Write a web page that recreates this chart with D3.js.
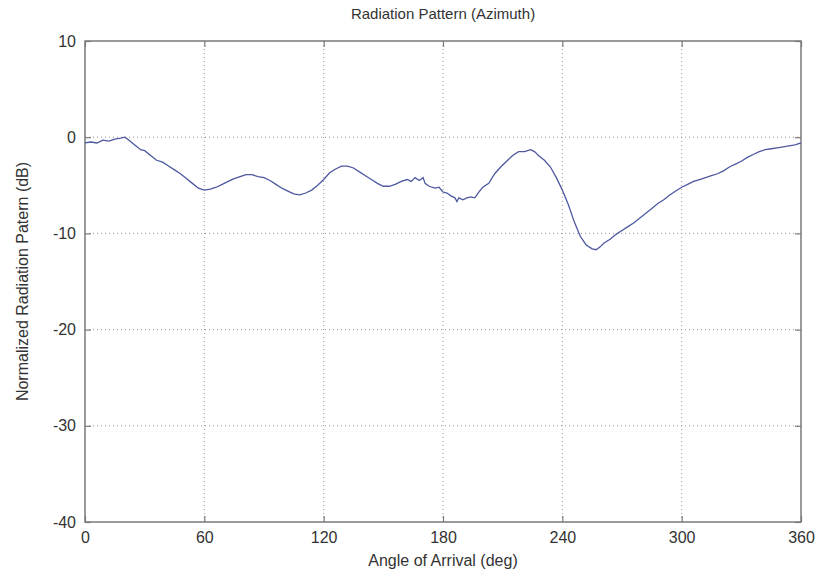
<!DOCTYPE html>
<html>
	<head>
		<meta charset="utf-8">
		<title>Radiation Pattern (Azimuth)</title>
		<style>
		body {
			margin: 0;
			background: #fff;
		}

		svg text {
			font-family: "Liberation Sans", Arial, sans-serif;
			fill: #333;
		}

		.grid line {
			stroke: #9a9a9a;
			stroke-width: 1px;
			stroke-dasharray: 1, 3;
		}

		.frame {
			fill: none;
			stroke: #7a7a7a;
			stroke-width: 1.5px;
		}

		.curve {
			fill: none;
			stroke: #4d58a0;
			stroke-width: 1.3px;
		}
		</style>
		<script src="https://d3js.org/d3.v7.min.js"></script>
	</head>
	<body>
		<svg id="chart" width="824" height="585"></svg>

		<script>
		// angle of arrival (deg) and normalized pattern (dB)
		var angles = [
			0, 3, 6, 9, 12, 15, 18, 20, 22, 25, 28, 30, 33, 36, 39, 42, 45, 48, 51, 54,
			57, 60, 63, 66, 69, 72, 75, 78, 81, 84, 87, 90, 93, 96, 99, 102, 105, 108, 111, 114,
			117, 120, 123, 126, 129, 132, 135, 138, 141, 144, 147, 150, 153, 156, 159, 162, 164, 166, 168, 170,
			171, 173, 176, 178, 180, 182, 184, 186, 187, 188, 190, 192, 194, 196, 198, 200, 203, 206, 209, 212,
			215, 218, 221, 224, 226, 228, 231, 234, 237, 240, 243, 246, 249, 252, 255, 257, 259, 261, 264, 267,
			270, 273, 276, 279, 282, 285, 288, 291, 294, 297, 300, 303, 306, 309, 312, 315, 318, 321, 324, 327,
			330, 333, 336, 339, 342, 345, 348, 351, 354, 357, 360
		];

		var gainDb = [
			-0.6, -0.5, -0.6, -0.3, -0.4, -0.2, -0.1, 0.0, -0.3, -0.8, -1.3, -1.4, -1.9, -2.4, -2.6, -3.0, -3.4, -3.8, -4.3, -4.8,
			-5.3, -5.5, -5.4, -5.2, -4.9, -4.6, -4.3, -4.1, -3.9, -3.9, -4.1, -4.2, -4.5, -4.9, -5.3, -5.6, -5.9, -6.0, -5.8, -5.5,
			-5.0, -4.4, -3.7, -3.3, -3.0, -3.0, -3.2, -3.6, -4.0, -4.4, -4.8, -5.1, -5.1, -4.9, -4.6, -4.4, -4.6, -4.2, -4.5, -4.2,
			-4.8, -5.1, -5.3, -5.2, -5.7, -5.8, -6.1, -6.3, -6.7, -6.3, -6.5, -6.3, -6.2, -6.3, -5.7, -5.2, -4.8, -3.8, -3.1, -2.5,
			-1.9, -1.5, -1.5, -1.3, -1.5, -1.9, -2.4, -3.1, -4.2, -5.5, -7.0, -8.8, -10.3, -11.2, -11.6, -11.7, -11.4, -11.0, -10.6, -10.1,
			-9.7, -9.3, -8.9, -8.4, -7.9, -7.4, -6.9, -6.5, -6.0, -5.6, -5.2, -4.9, -4.6, -4.4, -4.2, -4.0, -3.8, -3.5, -3.1, -2.8,
			-2.5, -2.1, -1.8, -1.5, -1.3, -1.2, -1.1, -1.0, -0.9, -0.8, -0.6
		];

		var xTicks = [0, 60, 120, 180, 240, 300, 360];
		var yTicks = [10, 0, -10, -20, -30, -40];

		var title = 'Radiation Pattern (Azimuth)',
			xTitle = 'Angle of Arrival (deg)',
			yTitle = 'Normalized Radiation Patern (dB)';

		function drawChart () {
			var	svg	= d3.select('#chart'),
				plot	= { left: 85, top: 41, right: 801, bottom: 522 },
				xScale	= d3.scaleLinear().domain([0, 360]).range([plot.left, plot.right]),
				yScale	= d3.scaleLinear().domain([-40, 10]).range([plot.bottom, plot.top]),
				plain	= function (d) { return String(d); };

			// dotted grid
			var grid = svg.append('g').attr('class', 'grid');

			grid.selectAll('.gx')
				.data(xTicks.slice(1, -1))
				.enter()
				.append('line')
				.attr('x1', function (d) { return xScale(d); })
				.attr('x2', function (d) { return xScale(d); })
				.attr('y1', plot.top)
				.attr('y2', plot.bottom);

			grid.selectAll('.gy')
				.data(yTicks.slice(1, -1))
				.enter()
				.append('line')
				.attr('x1', plot.left)
				.attr('x2', plot.right)
				.attr('y1', function (d) { return yScale(d); })
				.attr('y2', function (d) { return yScale(d); });

			// axes with inward ticks on all four sides
			var tickStyle = function (g) {
				g.select('.domain').remove();
				g.selectAll('.tick line').attr('stroke', '#7a7a7a').attr('stroke-width', 1.2);
				g.selectAll('.tick text')
					.attr('font-size', 16)
					.attr('font-family', '"Liberation Sans", Arial, sans-serif')
					.attr('fill', '#333');
			};

			svg.append('g')
				.attr('transform', 'translate(0,' + plot.bottom + ')')
				.call(d3.axisBottom(xScale).tickValues(xTicks).tickSize(-6).tickPadding(10).tickFormat(plain))
				.call(tickStyle);

			svg.append('g')
				.attr('transform', 'translate(0,' + plot.top + ')')
				.call(d3.axisTop(xScale).tickValues(xTicks).tickSize(-6).tickFormat(''))
				.call(tickStyle);

			svg.append('g')
				.attr('transform', 'translate(' + plot.left + ',0)')
				.call(d3.axisLeft(yScale).tickValues(yTicks).tickSize(-6).tickPadding(9).tickFormat(plain))
				.call(tickStyle);

			svg.append('g')
				.attr('transform', 'translate(' + plot.right + ',0)')
				.call(d3.axisRight(yScale).tickValues(yTicks).tickSize(-6).tickFormat(''))
				.call(tickStyle);

			svg.append('rect')
				.attr('class', 'frame')
				.attr('x', plot.left)
				.attr('y', plot.top)
				.attr('width', plot.right - plot.left)
				.attr('height', plot.bottom - plot.top);

			// the measured pattern
			var line = d3.line()
				.x(function (d, i) { return xScale(angles[i]); })
				.y(function (d) { return yScale(d); });

			svg.append('path')
				.attr('class', 'curve')
				.attr('d', line(gainDb));

			// titles
			svg.append('text')
				.attr('x', (plot.left + plot.right) / 2)
				.attr('y', 19)
				.attr('text-anchor', 'middle')
				.attr('font-size', 15)
				.text(title);

			svg.append('text')
				.attr('x', (plot.left + plot.right) / 2)
				.attr('y', 566)
				.attr('text-anchor', 'middle')
				.attr('font-size', 16)
				.text(xTitle);

			svg.append('text')
				.attr('transform', 'translate(28,' + (plot.top + plot.bottom) / 2 + ') rotate(-90)')
				.attr('text-anchor', 'middle')
				.attr('font-size', 16)
				.text(yTitle);
		}

		drawChart();
		</script>
	</body>
</html>
